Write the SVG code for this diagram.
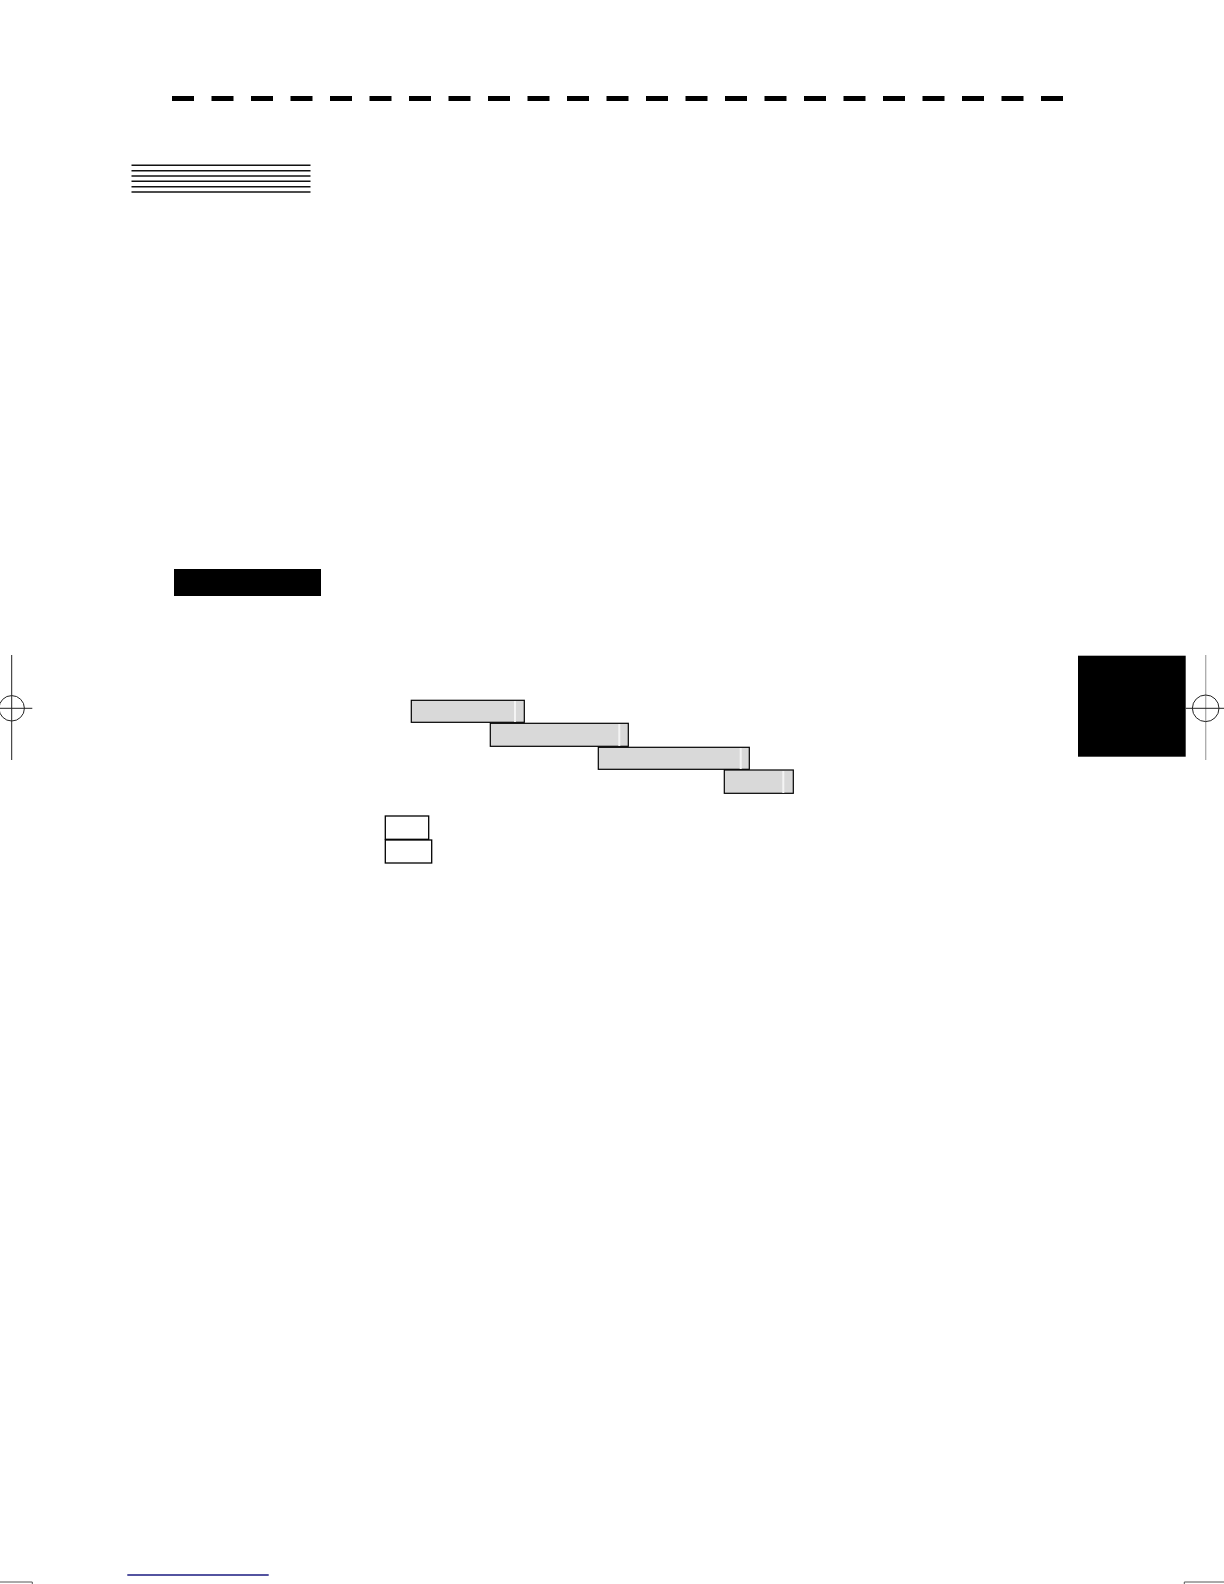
<svg xmlns="http://www.w3.org/2000/svg" width="1224" height="1584" viewBox="0 0 1224 1584">
<style>
.dash{fill:#000}
.hl{stroke:#111;stroke-width:1.4}
.gbox{fill:#d9d9d9;stroke:#000;stroke-width:1.2}
.stripe{stroke:#f4f4f4;stroke-width:2}
.wbox{fill:#fff;stroke:#000;stroke-width:1.3}
.crop{stroke:#222;stroke-width:1;fill:none}
</style>
<rect width="1224" height="1584" fill="#fff"/>
<g id="dashes">
<rect class="dash" x="172" y="96" width="22" height="5"/>
<rect class="dash" x="211.5" y="96" width="22" height="5"/>
<rect class="dash" x="251" y="96" width="22" height="5"/>
<rect class="dash" x="290.5" y="96" width="22" height="5"/>
<rect class="dash" x="330" y="96" width="22" height="5"/>
<rect class="dash" x="369.5" y="96" width="22" height="5"/>
<rect class="dash" x="409" y="96" width="22" height="5"/>
<rect class="dash" x="448.5" y="96" width="22" height="5"/>
<rect class="dash" x="488" y="96" width="22" height="5"/>
<rect class="dash" x="527.5" y="96" width="22" height="5"/>
<rect class="dash" x="567" y="96" width="22" height="5"/>
<rect class="dash" x="606.5" y="96" width="22" height="5"/>
<rect class="dash" x="646" y="96" width="22" height="5"/>
<rect class="dash" x="685.5" y="96" width="22" height="5"/>
<rect class="dash" x="725" y="96" width="22" height="5"/>
<rect class="dash" x="764.5" y="96" width="22" height="5"/>
<rect class="dash" x="804" y="96" width="22" height="5"/>
<rect class="dash" x="843.5" y="96" width="22" height="5"/>
<rect class="dash" x="883" y="96" width="22" height="5"/>
<rect class="dash" x="922.5" y="96" width="22" height="5"/>
<rect class="dash" x="962" y="96" width="22" height="5"/>
<rect class="dash" x="1001.5" y="96" width="22" height="5"/>
<rect class="dash" x="1041" y="96" width="22" height="5"/>
</g>
<g id="hlines">
<line class="hl" x1="131.5" y1="165.3" x2="310.5" y2="165.3"/>
<line class="hl" x1="131.5" y1="170.7" x2="310.5" y2="170.7" stroke="#444"/>
<line class="hl" x1="131.5" y1="176" x2="310.5" y2="176"/>
<line class="hl" x1="131.5" y1="181.3" x2="310.5" y2="181.3" stroke="#444"/>
<line class="hl" x1="131.5" y1="186.7" x2="310.5" y2="186.7"/>
<line class="hl" x1="131.5" y1="192" x2="310.5" y2="192"/>
</g>
<g id="blackLabel"><rect x="174" y="569" width="147" height="27" fill="#000"/></g>
<g id="menu1"><rect class="gbox" x="411.3" y="700.3" width="113" height="22"/><line class="stripe" x1="515" y1="701" x2="515" y2="722"/></g>
<g id="menu2"><rect class="gbox" x="490.3" y="723.3" width="138" height="23"/><line class="stripe" x1="619.3" y1="724" x2="619.3" y2="746"/></g>
<g id="menu3"><rect class="gbox" x="598.3" y="747.3" width="151" height="22"/><line class="stripe" x1="740.7" y1="748" x2="740.7" y2="769"/></g>
<g id="menu4"><rect class="gbox" x="724.3" y="770" width="69" height="23.3"/><line class="stripe" x1="783.3" y1="771" x2="783.3" y2="793"/></g>
<g id="key1"><rect class="wbox" x="385.3" y="816" width="43.4" height="23.3"/></g>
<g id="key2"><rect class="wbox" x="385.3" y="840" width="46.4" height="23"/></g>
<g id="tab"><rect x="1078" y="655.7" width="107.7" height="101" fill="#000"/></g>
<g id="cropLeft">
<line class="crop" x1="11.7" y1="655" x2="11.7" y2="760"/>
<line class="crop" x1="0" y1="708.3" x2="32.3" y2="708.3"/>
<circle class="crop" cx="11.7" cy="708.3" r="12.7"/>
</g>
<g id="cropRight">
<line x1="1205.7" y1="655" x2="1205.7" y2="760" stroke="#aaa" stroke-width="1.3"/>
<line class="crop" x1="1185.7" y1="708.3" x2="1224" y2="708.3"/>
<circle class="crop" cx="1205.7" cy="708.3" r="13.3"/>
</g>
<g id="footer">
<line x1="127.3" y1="1575" x2="268.7" y2="1575" stroke="#1a1a80" stroke-width="1.3"/>
<polyline points="0,1582 32.3,1582 32.3,1584" fill="none" stroke="#555" stroke-width="1"/>
<polyline points="1184.3,1584 1184.3,1582 1224,1582" fill="none" stroke="#555" stroke-width="1"/>
</g>
</svg>
